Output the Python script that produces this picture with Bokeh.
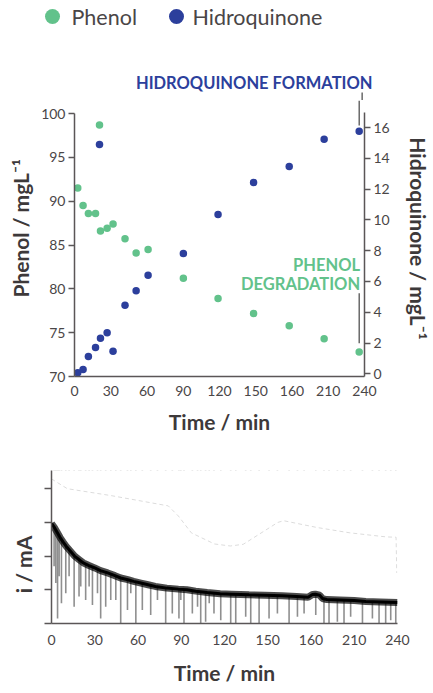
import numpy as np
from bokeh.plotting import figure
from bokeh.models import Range1d, LinearAxis, FixedTicker, Label, Arrow, Plot
from bokeh.layouts import column
from bokeh.embed import file_html
from bokeh.resources import INLINE
from bokeh.core.properties import value

# ---------------- data ----------------
time_min = [2.7, 7.1, 11.5, 17.4, 21.5, 27.0, 31.9, 41.8, 51.0, 60.9, 90.1, 118.8, 148.2, 177.7, 206.6, 235.6]
phenol = [91.5, 89.5, 88.6, 88.6, 86.6, 86.9, 87.4, 85.7, 84.1, 84.5, 81.2, 78.9, 77.2, 75.8, 74.3, 72.8]
hydroquinone = [0.07, 0.28, 1.12, 1.71, 2.31, 2.66, 1.47, 4.46, 5.39, 6.40, 7.81, 10.35, 12.43, 13.47, 15.23, 15.75]
outlier_time = [20.7]
phenol_outlier = [98.7]
hydroquinone_outlier = [14.9]

time_ticks = [0, 30, 60, 90, 120, 150, 180, 210, 240]
time_tick_labels = ["0", "30", "60", "90", "120", "150", "160", "210", "240"]
phenol_ticks = [70, 75, 80, 85, 90, 95, 100]
hq_ticks = [0, 2, 4, 6, 8, 10, 12, 14, 16]
current_ticks = [0, 1, 2, 3, 4]

legend_labels = ["Phenol", "Hidroquinone"]

current_time = [0, 2, 4, 6, 8, 10, 13, 16, 19, 22, 26, 30, 34, 39, 44, 48, 53, 57, 62, 67,
                72, 80, 88, 94, 100, 108, 117, 125, 137, 148, 160, 170, 178, 181, 183, 186,
                188, 191, 200, 210, 218, 228, 240]
current_mA = [2.97, 2.85, 2.70, 2.55, 2.42, 2.30, 2.15, 2.00, 1.90, 1.80, 1.72, 1.65, 1.57, 1.50,
              1.42, 1.35, 1.30, 1.25, 1.20, 1.15, 1.10, 1.05, 1.02, 1.00, 0.96, 0.92, 0.88, 0.87,
              0.85, 0.84, 0.82, 0.80, 0.78, 0.86, 0.87, 0.84, 0.74, 0.71, 0.70, 0.68, 0.65, 0.64, 0.62]

spike_time = [1.8, 3.0, 4.2, 5.3, 6.9, 9.9, 12.2, 15.7, 19.1, 20.3, 23.7, 26.1, 28.4, 31.9, 34.1,
              37.6, 41.1, 44.6, 48.0, 52.7, 55.0, 58.5, 63.0, 68.8, 73.5, 79.2, 83.8, 88.4, 89.7,
              91.9, 97.7, 101.3, 103.5, 106.9, 109.4, 112.7, 117.4, 124.3, 127.8, 134.7, 138.2,
              144.0, 150.9, 156.7, 164.8, 170.6, 175.2, 183.3, 189.0, 192.5, 198.3, 202.9, 207.5,
              215.7, 222.6, 227.2, 231.8, 235.3, 238.8]
spike_low = [1.70, 1.20, 0.15, 1.40, 0.60, 0.90, 1.40, 0.50, 0.80, 1.10, 0.70, 1.10, 0.55, 0.90,
             0.15, 0.50, 0.70, 0.70, 0.00, 0.40, 0.90, 0.00, 0.40, 0.25, 0.70, 0.00, 0.30, 0.15,
             0.70, 0.00, 0.30, 0.50, 0.00, 0.05, 0.60, 0.30, 0.10, 0.00, 0.00, 0.20, 0.00, 0.00,
             0.15, 0.30, 0.00, 0.20, 0.30, 0.25, 0.00, 0.00, 0.05, 0.00, 0.20, 0.00, 0.15, 0.00,
             0.00, 0.10, 0.00]

ref_time = [0, 11, 42, 81, 88, 97, 113, 124, 133, 157, 161, 184, 207, 232, 239, 239.5]
ref_mA = [4.29, 4.00, 3.79, 3.49, 3.19, 2.69, 2.36, 2.30, 2.35, 3.00, 3.05, 2.85, 2.69, 2.57, 2.56, 1.50]

# ---------------- style ----------------
GREEN = "#62c28b"
BLUE = "#2c3f9c"
TXT = "#4a4647"
AXC = "#5a5657"
FONT = "Lato"
NB = "\u00a0"
FA = {"frame_align": False} if "frame_align" in Plot.properties() else {}

# top chart geometry (pixels of the frame)
PX_PER_MIN = 293 / 240.0
PX_PER_PHENOL = 263 / 30.0
PX_PER_HQ = 246.3 / 16.0
Y_TOP = 100 + 13 / PX_PER_PHENOL          # frame extends 13 px above the 100 tick
HQ_BOTTOM = -2.7 / PX_PER_HQ
HQ_TOP = HQ_BOTTOM + 276 / PX_PER_HQ


def style_axis(ax, size="14px"):
    ax.axis_line_color = AXC
    ax.axis_line_width = 1.5
    ax.major_tick_line_color = AXC
    ax.major_tick_line_width = 1.5
    ax.minor_tick_line_color = None
    ax.major_tick_in = 0
    ax.major_label_text_font = FONT
    ax.major_label_text_font_size = size
    ax.major_label_text_color = TXT
    ax.axis_label_text_font = FONT
    ax.axis_label_text_font_style = "bold"
    ax.axis_label_text_font_size = "21px"
    ax.axis_label_text_color = "#3d393a"


# ---------------- legend / title strip ----------------
leg = figure(width=433, height=100, x_range=Range1d(0, 433), y_range=Range1d(0, 100),
             output_backend="svg", toolbar_location=None, x_axis_type=None, y_axis_type=None,
             min_border=0, **FA)
leg.outline_line_color = None
leg.grid.visible = False
leg.extra_x_ranges = {"time": Range1d(-74 / PX_PER_MIN, 240 + 66 / PX_PER_MIN)}
leg.scatter(x=[52, 176], y=[84, 84], size=15, color=[GREEN, BLUE], line_color=None)
leg.text(x=[71, 192], y=[84, 84], text=legend_labels, text_font=value(FONT),
         text_font_size="21.5px", text_color=TXT, text_baseline="middle")
leg.add_layout(Label(x=372, y=17.3, text="HIDROQUINONE FORMATION", text_font=FONT,
                     text_font_style="bold", text_font_size="16.5px", text_color=BLUE,
                     text_align="right", text_baseline="middle"))
leg.add_layout(Arrow(end=None, x_start=time_min[-1], x_end=time_min[-1], y_start=8, y_end=0,
                     x_range_name="time", line_color="#444", line_width=1.2))

# ---------------- top chart ----------------
p = figure(width=433, height=340, x_range=Range1d(0, 240), y_range=Range1d(70, Y_TOP),
           output_backend="svg", toolbar_location=None,
           min_border_left=74, min_border_right=66, min_border_top=0, min_border_bottom=64, **FA)
p.outline_line_color = None
p.grid.visible = False
p.extra_y_ranges = {"hq": Range1d(HQ_BOTTOM, HQ_TOP)}

p.xaxis.ticker = FixedTicker(ticks=time_ticks)
p.xaxis.major_label_overrides = dict(zip(time_ticks, time_tick_labels))
p.xaxis.axis_label = "Time / min"
style_axis(p.xaxis[0])
p.xaxis.major_tick_out = 0
p.xaxis.major_label_standoff = 9
p.xaxis.axis_label_standoff = 10

p.yaxis.ticker = FixedTicker(ticks=phenol_ticks)
p.yaxis.bounds = (70, 100)
p.yaxis.axis_label = NB * 4 + "Phenol / mgL⁻¹"
style_axis(p.yaxis[0])
p.yaxis.major_tick_out = 6
p.yaxis.major_label_standoff = 3
p.yaxis.axis_label_standoff = 5

ax2 = LinearAxis(y_range_name="hq", ticker=FixedTicker(ticks=hq_ticks),
                 axis_label="Hidroquinone / mgL⁻¹", bounds=(HQ_BOTTOM, 16.98))
style_axis(ax2)
ax2.major_tick_out = 6
ax2.major_label_standoff = 3
ax2.axis_label_standoff = 13
p.add_layout(ax2, "right")

p.scatter(time_min, phenol, size=7.5, color=GREEN, line_color=None)
p.scatter(outlier_time, phenol_outlier, size=7.5, color=GREEN, line_color=None)
p.scatter(time_min, hydroquinone, size=7.5, color=BLUE, line_color=None, y_range_name="hq")
p.scatter(outlier_time, hydroquinone_outlier, size=7.5, color=BLUE, line_color=None, y_range_name="hq")

p.add_layout(Arrow(end=None, x_start=time_min[-1], x_end=time_min[-1], y_start=Y_TOP, y_end=98.63,
                   line_color="#444", line_width=1.2))
p.add_layout(Label(x=236.4, y=82.77, text="PHENOL", text_font=FONT,
                   text_font_style="bold", text_font_size="16.5px", text_color=GREEN,
                   text_align="right", text_baseline="middle"))
p.add_layout(Label(x=236.4, y=80.5, text="DEGRADATION", text_font=FONT,
                   text_font_style="bold", text_font_size="16.5px", text_color=GREEN,
                   text_align="right", text_baseline="middle"))
p.add_layout(Arrow(end=None, x_start=time_min[-1], x_end=time_min[-1], y_start=79.5, y_end=73.8,
                   line_color="#444", line_width=1.2))

# ---------------- bottom chart ----------------
Q_TOP = 4.54
q = figure(width=433, height=253, x_range=Range1d(0, 240), y_range=Range1d(0, Q_TOP),
           output_backend="svg", toolbar_location=None,
           min_border_left=51, min_border_right=36, min_border_top=30, min_border_bottom=70, **FA)
q.outline_line_color = None
q.grid.visible = False

q.segment(x0=spike_time, y0=spike_low, x1=spike_time, y1=[Q_TOP] * len(spike_time),
          line_color="#333333", line_alpha=0.55, line_width=1.6)
q.varea(x=current_time, y1=current_mA, y2=[Q_TOP] * len(current_time), fill_color="white")
q.line(ref_time, ref_mA, line_color="#dcdcdc", line_width=1, line_dash="4 3")
q.line(current_time, current_mA, line_color="black", line_width=7, line_alpha=0.7)
q.line(current_time, current_mA, line_color="black", line_width=3)

q.xaxis.ticker = FixedTicker(ticks=time_ticks)
q.xaxis.major_label_overrides = dict(zip(time_ticks, time_tick_labels))
q.xaxis.axis_label = "Time / min"
style_axis(q.xaxis[0])
q.xaxis.major_tick_out = 0
q.xaxis.major_label_standoff = 11
q.xaxis.axis_label_standoff = 12

q.yaxis.ticker = FixedTicker(ticks=current_ticks)
q.yaxis.major_label_overrides = {t: "" for t in current_ticks}
q.yaxis.axis_label = "i / mA" + NB * 7
style_axis(q.yaxis[0])
q.yaxis.major_tick_out = 7
q.yaxis.axis_label_standoff = 9

layout = column(leg, p, q, spacing=0)
open("out.html", "w").write(file_html(layout, INLINE))
